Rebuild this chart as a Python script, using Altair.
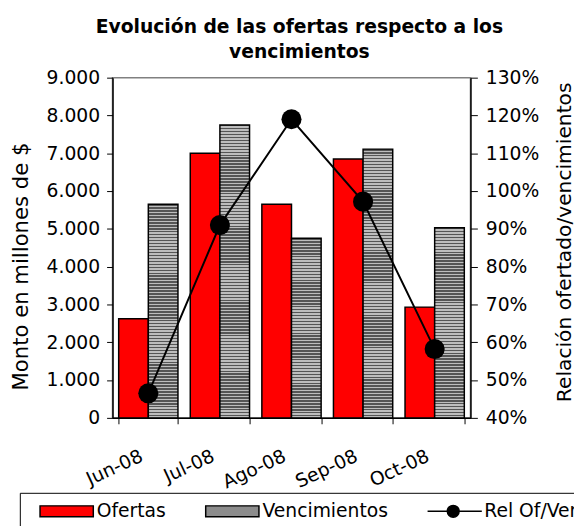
import altair as alt
import pandas as pd

# ---- data ----
meses = ["Jun-08", "Jul-08", "Ago-08", "Sep-08", "Oct-08"]
ofertas = [2620, 7000, 5650, 6850, 2930]
vencimientos = [5650, 7750, 4750, 7110, 5030]
relacion = [0.465, 0.91, 1.19, 0.972, 0.582]
series = ["Ofertas", "Vencimientos", "Rel Of/Ven"]
y_ticks = [0, 1000, 2000, 3000, 4000, 5000, 6000, 7000, 8000, 9000]
r_ticks = [0.4, 0.5, 0.6, 0.7, 0.8, 0.9, 1.0, 1.1, 1.2, 1.3]

W, H = 363, 345
YMAX = 9000
FONT = "DejaVu Sans"

bars_df = pd.DataFrame({
    "mes": meses * 2,
    "serie": ["Ofertas"] * len(meses) + ["Vencimientos"] * len(meses),
    "monto": ofertas + vencimientos,
})
rel_df = pd.DataFrame({"mes": meses, "rel": relacion})
leg_df = pd.DataFrame({"serie": series})

x_enc = alt.X(
    "mes:N", sort=meses, title=None,
    scale=alt.Scale(domain=meses, paddingInner=0.172, paddingOuter=0.086),
    axis=alt.Axis(labelAngle=-25, labelAlign="right", labelBaseline="top",
                  labelOffset=-11, labelPadding=23, tickBand="extent",
                  tickSize=6, domainColor="black", tickColor="black"),
)
xoff = alt.XOffset("serie:N", scale=alt.Scale(domain=["Ofertas", "Vencimientos"],
                                               paddingInner=0, paddingOuter=0))
y_scale = alt.Scale(domain=[0, YMAX], nice=False)
y_axis = alt.Axis(values=y_ticks, title="Monto en millones de $",
                  labelExpr="replace(format(datum.value, ',d'), ',', '.')",
                  tickSize=6, labelPadding=7, grid=False,
                  titleX=-92, titleY=191, titleAngle=270, titleFontSize=21.5,
                  titleAlign="center", titleBaseline="middle")

y_enc = alt.Y("monto:Q", scale=y_scale, axis=y_axis)

of_layer = alt.Chart(bars_df).transform_filter(
    alt.datum.serie == "Ofertas"
).mark_bar(fill="#FF0000", stroke="black", strokeWidth=1.5).encode(
    x=x_enc, xOffset=xoff, y=y_enc
)

# striped fill for Vencimientos (one gradient per bar, ~3px period)
DARK, LIGHT = "#555555", "#bdbdbd"
ven_layers = []
for i, m in enumerate(meses):
    hpx = vencimientos[i] / YMAX * H
    n = max(1, round(hpx / 3))
    stops = []
    for k in range(n):
        a, b, c = k / n, (k + 0.5) / n, (k + 1) / n
        stops += [alt.GradientStop(offset=a, color=DARK),
                  alt.GradientStop(offset=b, color=DARK),
                  alt.GradientStop(offset=b, color=LIGHT),
                  alt.GradientStop(offset=min(c, 1.0), color=LIGHT)]
    grad = alt.LinearGradient(gradient="linear", stops=stops, x1=0, x2=0, y1=0, y2=1)
    ven_layers.append(
        alt.Chart(bars_df).transform_filter(
            (alt.datum.serie == "Vencimientos") & (alt.datum.mes == m)
        ).mark_bar(stroke="black", strokeWidth=1.5).encode(
            x=x_enc, xOffset=xoff, y=y_enc, fill=alt.value(grad)
        )
    )

r_scale = alt.Scale(domain=[0.4, 1.3], nice=False)
r_axis = alt.Axis(values=r_ticks, format=".0%", orient="right",
                  title="Relación ofertado/vencimientos",
                  tickSize=7, labelPadding=8, grid=False,
                  titleX=95, titleY=166.5, titleAngle=270,
                  titleAlign="center", titleBaseline="middle")
r_enc = alt.Y("rel:Q", scale=r_scale, axis=r_axis)

line = alt.Chart(rel_df).mark_line(color="black", strokeWidth=2).encode(x=x_enc, y=r_enc)
dots = alt.Chart(rel_df).mark_circle(size=415, color="black", opacity=1).encode(x=x_enc, y=r_enc)

RECT = "M0.333,-0.917H9.333V0.917H0.333Z"
LINE = "M0.333,0H9.5M3.667,0A1,1,0,1,1,5.667,0A1,1,0,1,1,3.667,0Z"
leg_props = dict(
    orient="none", legendX=-94, legendY=421, direction="horizontal",
    padding=9, strokeColor="black", fillColor="white", title=None,
    labelFont=FONT, labelFontSize=19, labelColor="black",
    symbolSize=144, labelOffset=50, columnPadding=28,
    symbolStrokeColor="black", symbolStrokeWidth=1.5, symbolOpacity=1,
)
legend_layer = alt.Chart(leg_df).transform_filter("false").mark_point(
    filled=True, opacity=1, stroke="black", strokeWidth=1.5
).encode(
    fill=alt.Fill("serie:N", scale=alt.Scale(domain=series,
                  range=["#FF0000", "#8c8c8c", "black"]),
                  legend=alt.Legend(**leg_props)),
    stroke=alt.Stroke("serie:N", scale=alt.Scale(domain=series,
                      range=["black", "black", "black"]),
                      legend=alt.Legend(**leg_props)),
    shape=alt.Shape("serie:N", scale=alt.Scale(domain=series, range=[RECT, RECT, LINE]),
                    legend=alt.Legend(**leg_props)),
)

bars = alt.layer(of_layer, *ven_layers)
rel = alt.layer(line, dots)

chart = alt.layer(bars, rel, legend_layer).resolve_scale(
    y="independent"
).properties(
    width=W, height=H,
    autosize=alt.AutoSizeParams(type="none"),
    padding={"left": 106, "top": 67, "right": 105, "bottom": 106},
    title=alt.Title(["Evolución de las ofertas respecto a los", "vencimientos"],
                    font=FONT, fontSize=19, fontWeight="bold", lineHeight=25.5,
                    anchor="middle", offset=7, dx=8, color="black"),
).configure_view(
    fill="#FFFFCC", stroke="#808080", strokeWidth=1.5
).configure_axis(
    labelFont=FONT, labelFontSize=19, labelColor="black",
    titleFont=FONT, titleFontSize=20.5, titleFontWeight="normal", titleColor="black",
    domainColor="black", tickColor="black", domainWidth=1.5,
)

chart.save("out.html", embed_options={"renderer": "svg", "actions": False})
